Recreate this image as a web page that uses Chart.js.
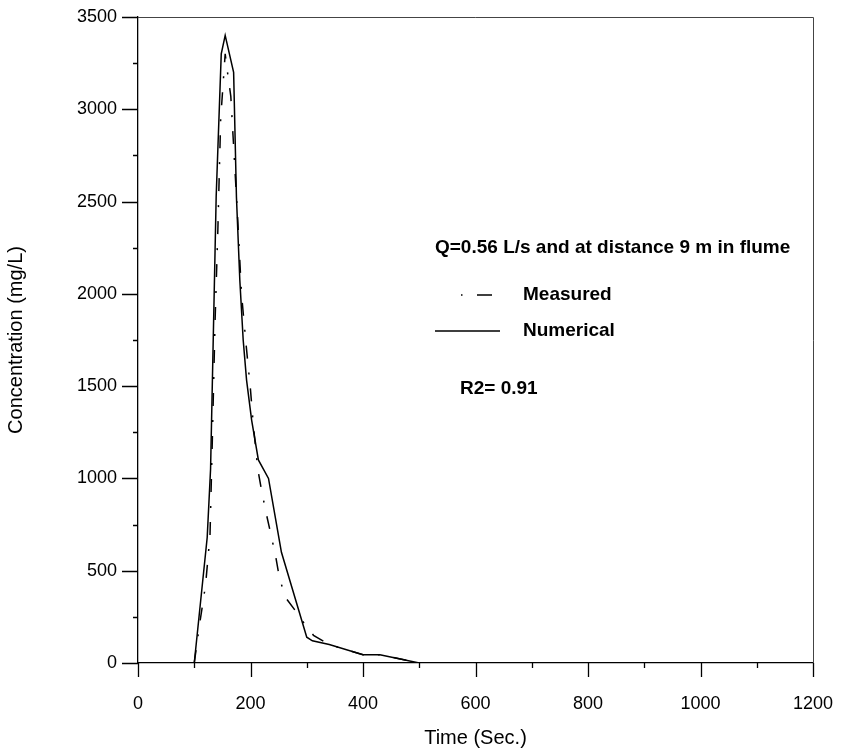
<!DOCTYPE html>
<html>
<head>
<meta charset="utf-8">
<script src="https://cdn.jsdelivr.net/npm/chart.js@4"></script>
<style>
  html, body { margin: 0; padding: 0; background: #fff; }
  #wrap { width: 841px; height: 754px; }
</style>
</head>
<body>
<div id="wrap"><canvas id="myChart" width="841" height="754"></canvas></div>
<script>
// measured concentration (dash-dot)
const timeMeasured = [100, 110, 120, 128, 132, 137, 142, 147, 155, 160, 165, 170, 177, 184, 192, 200, 205, 213, 220, 228, 236, 244, 251, 261, 283, 300, 312, 340, 400, 430, 500, 1200];
const concMeasured = [0, 220, 420, 690, 1190, 1850, 2350, 2950, 3300, 3180, 3070, 2800, 2420, 2000, 1730, 1480, 1290, 1050, 930, 810, 700, 590, 470, 360, 270, 195, 150, 100, 45, 45, 0, 0];

// numerical model (solid)
const timeNumerical = [100, 123, 129, 139, 148, 155, 170, 175, 181, 187, 193, 202, 214, 232, 255, 300, 310, 340, 400, 430, 500, 1200];
const concNumerical = [0, 680, 1050, 2530, 3300, 3400, 3200, 2525, 2075, 1750, 1533, 1316, 1100, 1000, 600, 140, 120, 100, 45, 45, 0, 0];

const xMin = 0, xMax = 1200, xStep = 200, xMinorStep = 100;
const yMin = 0, yMax = 3500, yStep = 500, yMinorStep = 250;

const legendTitle = 'Q=0.56 L/s and at distance 9 m in flume';
const seriesNames = ['Measured', 'Numerical'];
const r2Text = 'R2= 0.91';

const FONT = 'Arial, "Liberation Sans", Helvetica, sans-serif';

function toPoints(xs, ys) {
    return xs.map((x, i) => ({ x: x, y: ys[i] }));
}

// frame, tick marks and the text legend
const decorations = {
    id: 'decorations',
    afterDraw(chart) {
        const ctx = chart.ctx;
        const a = chart.chartArea;
        const sx = chart.scales.x;
        const sy = chart.scales.y;
        ctx.save();
        // top and right frame
        ctx.strokeStyle = '#444';
        ctx.lineWidth = 1;
        ctx.beginPath();
        ctx.moveTo(a.left, a.top + 0.5);
        ctx.lineTo(a.right + 0.5, a.top + 0.5);
        ctx.lineTo(a.right + 0.5, a.bottom);
        ctx.stroke();

        ctx.strokeStyle = '#000';
        ctx.lineWidth = 1.3;
        ctx.beginPath();
        for (let v = xMin; v <= xMax; v += xMinorStep) {
            const px = Math.round(sx.getPixelForValue(v)) + 0.5;
            const len = (v % xStep === 0) ? 14 : 5;
            ctx.moveTo(px, a.bottom);
            ctx.lineTo(px, a.bottom + len);
        }
        for (let v = yMin; v <= yMax; v += yMinorStep) {
            const py = Math.round(sy.getPixelForValue(v)) + 0.5;
            const len = (v % yStep === 0) ? 16 : 5;
            ctx.moveTo(a.left, py);
            ctx.lineTo(a.left - len, py);
        }
        ctx.stroke();

        // legend text
        ctx.fillStyle = '#000';
        ctx.font = 'bold 19px ' + FONT;
        ctx.textBaseline = 'middle';
        ctx.textAlign = 'left';
        ctx.fillText(legendTitle, 435, 248);
        ctx.fillText(seriesNames[0], 523, 295);
        ctx.fillText(seriesNames[1], 523, 331);
        ctx.fillText(r2Text, 460, 389);

        ctx.lineWidth = 1.5;
        ctx.beginPath();
        ctx.moveTo(461, 295);
        ctx.lineTo(462.5, 295);
        ctx.moveTo(477, 295);
        ctx.lineTo(492, 295);
        ctx.moveTo(435, 331);
        ctx.lineTo(500, 331);
        ctx.stroke();
        ctx.restore();
    }
};

const ctx = document.getElementById('myChart').getContext('2d');
const chart = new Chart(ctx, {
    type: 'line',
    data: {
        datasets: [{
            label: seriesNames[0],
            data: toPoints(timeMeasured, concMeasured),
            borderColor: '#000',
            borderWidth: 1.5,
            borderDash: [13, 14, 2, 14],
            pointRadius: 0,
            tension: 0,
            fill: false
        }, {
            label: seriesNames[1],
            data: toPoints(timeNumerical, concNumerical),
            borderColor: '#000',
            borderWidth: 1.5,
            pointRadius: 0,
            tension: 0,
            fill: false
        }]
    },
    options: {
        responsive: false,
        animation: false,
        layout: { padding: { left: 0, right: 28, top: 17, bottom: 0 } },
        plugins: {
            legend: { display: false },
            tooltip: { enabled: false }
        },
        scales: {
            x: {
                type: 'linear',
                min: xMin,
                max: xMax,
                grid: { display: false, drawTicks: false },
                border: { display: true, color: '#000', width: 1.3 },
                ticks: {
                    stepSize: xStep,
                    padding: 30,
                    color: '#000',
                    font: { family: FONT, size: 18 },
                    callback: (v) => String(v)
                },
                title: {
                    display: true,
                    text: 'Time (Sec.)',
                    color: '#000',
                    font: { family: FONT, size: 20 }
                },
                afterFit(scale) {
                    scale.height = 754 - 663;
                    scale.paddingLeft = 0;
                    scale.paddingRight = 0;
                }
            },
            y: {
                min: yMin,
                max: yMax,
                grid: { display: false, drawTicks: false },
                border: { display: true, color: '#000', width: 1.3 },
                ticks: {
                    stepSize: yStep,
                    padding: 21,
                    color: '#000',
                    font: { family: FONT, size: 18 },
                    callback: (v) => String(v)
                },
                title: {
                    display: true,
                    text: 'Concentration (mg/L)',
                    color: '#000',
                    font: { family: FONT, size: 20 }
                },
                afterFit(scale) {
                    scale.width = 138;
                    scale.paddingTop = 0;
                    scale.paddingBottom = 0;
                }
            }
        }
    },
    plugins: [decorations]
});
</script>
</body>
</html>
